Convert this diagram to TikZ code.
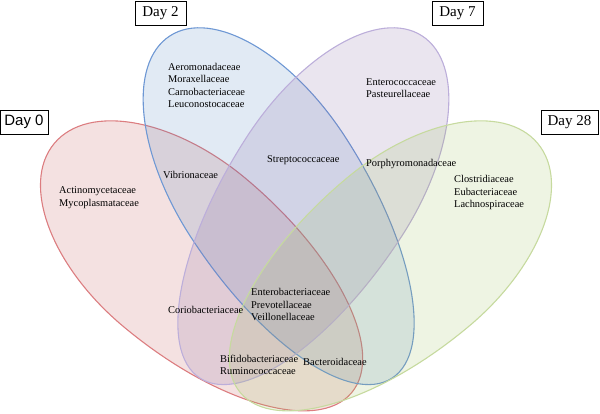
\documentclass[tikz,border=0pt]{standalone}
\usepackage{fontspec}
\setmainfont{Liberation Serif}
\newfontfamily\daysans{Liberation Sans}
\usepackage{tikz}

\definecolor{dayzero}{RGB}{192,80,77}
\definecolor{daytwo}{RGB}{79,129,189}
\definecolor{dayseven}{RGB}{128,100,162}
\definecolor{daytwentyeight}{RGB}{155,187,89}
\definecolor{dayzeroline}{RGB}{220,125,128}
\definecolor{daytwoline}{RGB}{110,152,212}
\definecolor{daysevenline}{RGB}{188,174,218}
\definecolor{daytwentyeightline}{RGB}{198,218,158}

\tikzset{
	family/.style={font=\fontsize{10.4}{12.5}\selectfont, align=left, anchor=west, inner sep=0pt},
	daybox/.style={draw, line width=0.8pt, font=\fontsize{15}{18}\selectfont, minimum height=24pt, inner sep=0pt},
	set/.style={fill=#1, fill opacity=0.17, draw=#1line, line width=1.1pt},
}
\newcommand{\eggpath}[3]{(-#3-#3,#2) arc[start angle=90, end angle=270, x radius=#1-#3-#3, y radius=#2]
	arc[start angle=270, end angle=450, x radius=#1+#3+#3, y radius=#2] -- cycle}

\begin{document}
\begin{tikzpicture}[x=1pt, y=1pt]
	\useasboundingbox (0,0) rectangle (600,413);
	\coordinate (R) at (203,145);
	\coordinate (B) at (281,206);
	\coordinate (P) at (311,206);
	\coordinate (G) at (389,145);
	\draw[set=dayzero, shift={(R)}, rotate=-40] \eggpath{194}{96}{12};
	\draw[set=daytwo, shift={(B)}, rotate=-57] \eggpath{204}{92}{12};
	\draw[set=dayseven, shift={(P)}, rotate=237] \eggpath{204}{92}{12};
	\draw[set=daytwentyeight, shift={(G)}, rotate=220] \eggpath{194}{96}{12};

	\node[daybox, minimum width=48pt, font=\daysans\fontsize{15}{18}\selectfont] (d0) at (24,291) {Day 0};
	\node[daybox, minimum width=51pt] (d2) at (160.5,400) {Day 2};
	\node[daybox, minimum width=51pt] (d7) at (457.5,400) {Day 7};
	\node[daybox, minimum width=57pt] (d28) at (569.5,290.5) {Day 28};

	\node[family] (only0) at (59,215.5) {Actinomycetaceae\\Mycoplasmataceae};
	\node[family] (only2) at (168,327.5) {Aeromonadaceae\\Moraxellaceae\\Carnobacteriaceae\\Leuconostocaceae};
	\node[family] (only7) at (366,325) {Enterococcaceae\\Pasteurellaceae};
	\node[family] (only28) at (454,220.5) {Clostridiaceae\\Eubacteriaceae\\Lachnospiraceae};
	\node[family] (vib) at (163,238) {Vibrionaceae};
	\node[family] (strep) at (267,253) {Streptococcaceae};
	\node[family] (porph) at (366,249) {Porphyromonadaceae};
	\node[family] (corio) at (168,103) {Coriobacteriaceae};
	\node[family] (all) at (251,108.5) {Enterobacteriaceae\\Prevotellaceae\\Veillonellaceae};
	\node[family] (bifido) at (220,48) {Bifidobacteriaceae\\Ruminococcaceae};
	\node[family] (bact) at (303,51) {Bacteroidaceae};
\end{tikzpicture}
\end{document}
